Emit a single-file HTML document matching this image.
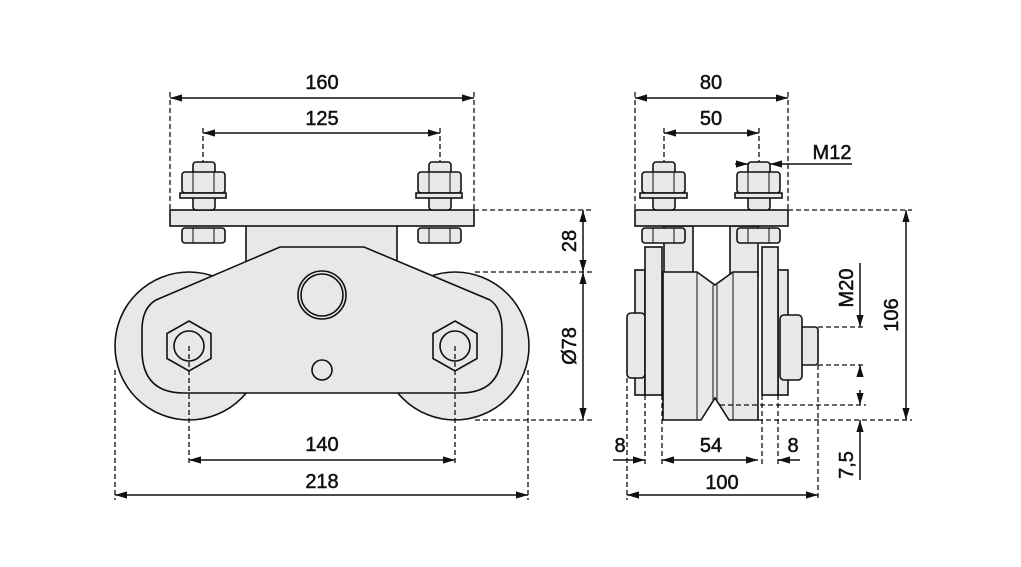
<!DOCTYPE html>
<html><head><style>
html,body{margin:0;padding:0;background:#fff}
svg{display:block}
text{font-family:"Liberation Sans",sans-serif;font-size:20px;fill:#111;stroke:#111;stroke-width:0.5;text-anchor:middle}
</style></head><body>
<svg width="1021" height="567" viewBox="0 0 1021 567" xmlns="http://www.w3.org/2000/svg">
<defs>
<marker id="a" viewBox="0 0 10 10" refX="10" refY="5" markerWidth="8" markerHeight="8" orient="auto-start-reverse"><path d="M0,2 L10,5 L0,8 z" fill="#111"/></marker>
</defs>
<g stroke="#111" stroke-width="1.6" fill="#e8e8e8">
<circle cx="189" cy="346" r="74"/>
<circle cx="455" cy="346" r="74"/>
<rect x="246" y="225" width="151" height="40"/>
<path d="M280,247 L364,247 L490,300 Q502,308 502,330 L502,350 Q502,393 460,393 L184,393 Q142,393 142,350 L142,330 Q142,308 156,300 Z"/>
<circle cx="322" cy="295" r="24"/>
<circle cx="322" cy="295" r="21"/>
<circle cx="322" cy="370" r="10"/>
<polygon points="189,321 211,333.5 211,358.5 189,371 167,358.5 167,333.5"/>
<circle cx="189" cy="346" r="15"/>
<polygon points="455,321 477,333.5 477,358.5 455,371 433,358.5 433,333.5"/>
<circle cx="455" cy="346" r="15"/>
<rect x="170" y="210" width="304" height="16"/>
<rect x="193" y="162" width="22" height="48" rx="3"/>
<rect x="182" y="172" width="43" height="21" rx="3"/>
<rect x="180" y="193" width="46" height="5"/>
<rect x="182" y="228" width="43" height="15" rx="3"/>
<rect x="429" y="162" width="22" height="48" rx="3"/>
<rect x="418" y="172" width="43" height="21" rx="3"/>
<rect x="416" y="193" width="46" height="5"/>
<rect x="418" y="228" width="43" height="15" rx="3"/>

<rect x="635" y="270" width="10" height="125"/>
<rect x="778" y="270" width="10" height="125"/>
<rect x="627" y="313" width="18" height="65" rx="4"/>
<rect x="800" y="327" width="18" height="38" rx="3"/>
<rect x="780" y="315" width="22" height="65" rx="4"/>
<rect x="645" y="247" width="17" height="148"/>
<rect x="762" y="247" width="16" height="148"/>
<rect x="664" y="226" width="29" height="50"/>
<rect x="730" y="226" width="28" height="50"/>
<path d="M663,272 L697,272 L715,285 L733,272 L758,272 L758,420 L729,420 L715,398 L701,420 L663,420 Z"/>
<rect x="635" y="210" width="153" height="16"/>
<rect x="653" y="162" width="22" height="48" rx="3"/>
<rect x="642" y="172" width="43" height="21" rx="3"/>
<rect x="640" y="193" width="47" height="5"/>
<rect x="642" y="228" width="43" height="15" rx="3"/>
<rect x="748" y="162" width="22" height="48" rx="3"/>
<rect x="737" y="172" width="43" height="21" rx="3"/>
<rect x="735" y="193" width="47" height="5"/>
<rect x="737" y="228" width="43" height="15" rx="3"/>
</g>
<g stroke="#111" stroke-width="1" fill="none">
<line x1="697" y1="272" x2="697" y2="420"/><line x1="733" y1="272" x2="733" y2="420"/>
<line x1="713" y1="285" x2="713" y2="400"/><line x1="717" y1="285" x2="717" y2="400"/>
<line x1="193" y1="172" x2="193" y2="193"/><line x1="214" y1="172" x2="214" y2="193"/>
<line x1="193" y1="228" x2="193" y2="243"/><line x1="214" y1="228" x2="214" y2="243"/>
<line x1="429" y1="172" x2="429" y2="193"/><line x1="450" y1="172" x2="450" y2="193"/>
<line x1="429" y1="228" x2="429" y2="243"/><line x1="450" y1="228" x2="450" y2="243"/>
<line x1="653" y1="172" x2="653" y2="193"/><line x1="674" y1="172" x2="674" y2="193"/>
<line x1="653" y1="228" x2="653" y2="243"/><line x1="674" y1="228" x2="674" y2="243"/>
<line x1="748" y1="172" x2="748" y2="193"/><line x1="769" y1="172" x2="769" y2="193"/>
<line x1="748" y1="228" x2="748" y2="243"/><line x1="769" y1="228" x2="769" y2="243"/>
</g>
<g stroke="#111" stroke-width="1.3" fill="none" stroke-dasharray="5,3">
<line x1="170" y1="92" x2="170" y2="210"/><line x1="474" y1="92" x2="474" y2="210"/>
<line x1="203" y1="128" x2="203" y2="162"/><line x1="440" y1="128" x2="440" y2="162"/>
<line x1="189" y1="346" x2="189" y2="466"/><line x1="455" y1="346" x2="455" y2="466"/>
<line x1="115" y1="370" x2="115" y2="500"/><line x1="528" y1="370" x2="528" y2="500"/>
<line x1="474" y1="210" x2="592" y2="210"/><line x1="475" y1="272" x2="592" y2="272"/><line x1="475" y1="420" x2="592" y2="420"/>
<line x1="635" y1="92" x2="635" y2="210"/><line x1="788" y1="92" x2="788" y2="210"/>
<line x1="664" y1="128" x2="664" y2="162"/><line x1="759" y1="128" x2="759" y2="162"/>
<line x1="788" y1="210" x2="912" y2="210"/><line x1="758" y1="420" x2="912" y2="420"/>
<line x1="818" y1="327" x2="866" y2="327"/><line x1="818" y1="365" x2="866" y2="365"/>
<line x1="720" y1="405" x2="866" y2="405"/>
<line x1="627" y1="378" x2="627" y2="500"/><line x1="818" y1="365" x2="818" y2="500"/>
<line x1="645" y1="395" x2="645" y2="466"/><line x1="662" y1="395" x2="662" y2="466"/>
<line x1="762" y1="395" x2="762" y2="466"/><line x1="778" y1="395" x2="778" y2="466"/>
</g>
<g stroke="#111" stroke-width="1.5" fill="none">
<line x1="170" y1="98" x2="474" y2="98" marker-start="url(#a)" marker-end="url(#a)"/>
<line x1="203" y1="133" x2="440" y2="133" marker-start="url(#a)" marker-end="url(#a)"/>
<line x1="189" y1="460" x2="455" y2="460" marker-start="url(#a)" marker-end="url(#a)"/>
<line x1="115" y1="495" x2="528" y2="495" marker-start="url(#a)" marker-end="url(#a)"/>
<line x1="583" y1="210" x2="583" y2="272" marker-start="url(#a)" marker-end="url(#a)"/>
<line x1="583" y1="272" x2="583" y2="420" marker-start="url(#a)" marker-end="url(#a)"/>
<line x1="635" y1="98" x2="788" y2="98" marker-start="url(#a)" marker-end="url(#a)"/>
<line x1="664" y1="133" x2="759" y2="133" marker-start="url(#a)" marker-end="url(#a)"/>
<line x1="735" y1="164" x2="748" y2="164" marker-end="url(#a)"/>
<line x1="852" y1="164" x2="770" y2="164" marker-end="url(#a)"/>
<line x1="906" y1="210" x2="906" y2="420" marker-start="url(#a)" marker-end="url(#a)"/>
<line x1="860" y1="263" x2="860" y2="327" marker-end="url(#a)"/>
<line x1="860" y1="375" x2="860" y2="365" marker-end="url(#a)"/>
<line x1="860" y1="390" x2="860" y2="405" marker-end="url(#a)"/>
<line x1="860" y1="480" x2="860" y2="420" marker-end="url(#a)"/>
<line x1="613" y1="460" x2="645" y2="460" marker-end="url(#a)"/>
<line x1="662" y1="460" x2="758" y2="460" marker-start="url(#a)" marker-end="url(#a)"/>
<line x1="800" y1="460" x2="778" y2="460" marker-end="url(#a)"/>
<line x1="627" y1="495" x2="818" y2="495" marker-start="url(#a)" marker-end="url(#a)"/>
</g>
<text x="322" y="89">160</text>
<text x="322" y="125">125</text>
<text x="322" y="451">140</text>
<text x="322" y="488">218</text>
<text transform="translate(576,241) rotate(-90)">28</text>
<text transform="translate(576,346) rotate(-90)">Ø78</text>
<text x="711" y="89">80</text>
<text x="711" y="125">50</text>
<text x="832" y="159">M12</text>
<text transform="translate(853,288) rotate(-90)">M20</text>
<text transform="translate(898,315) rotate(-90)">106</text>
<text transform="translate(853,465) rotate(-90)">7,5</text>
<text x="620" y="452">8</text>
<text x="711" y="452">54</text>
<text x="793" y="452">8</text>
<text x="722" y="489">100</text>
</svg>
</body></html>
